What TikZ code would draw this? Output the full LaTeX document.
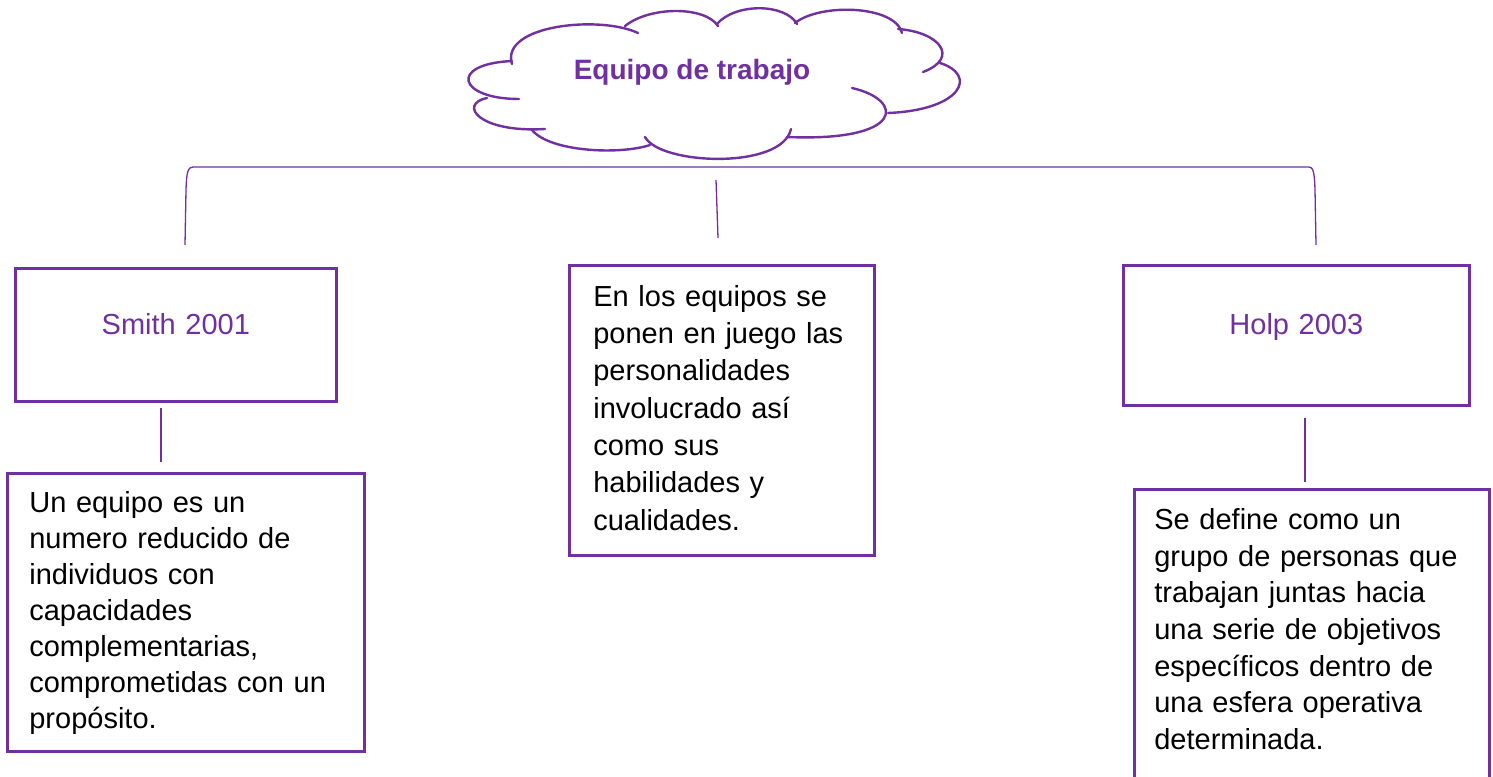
\documentclass[tikz,border=0pt]{standalone}
\usepackage{fontspec}
\setmainfont{Liberation Sans}
\definecolor{wpurple}{HTML}{7030A0}
\tikzset{
  txtbox/.style={draw=wpurple, line width=2.7pt, anchor=north west, inner ysep=0pt, align=left},
  headbox/.style={draw=wpurple, line width=2.7pt, anchor=north west, inner xsep=0pt, inner ysep=0pt, align=center, text=wpurple, font=\fontsize{29}{35}\selectfont},
  conn/.style={draw=wpurple, line width=1.3pt},
  lobe/.style={draw=wpurple, line width=2.4pt, line cap=round},
}
\begin{document}
\begin{tikzpicture}[x=1pt,y=-1pt]
\clip (0,0) rectangle (1493,776);
\fill[white] (0,0) rectangle (1493,776);

% cloud
\draw[lobe] (512,64) .. controls (500,25) and (600,15) .. (638,33);
\draw[lobe] (625,26) .. controls (650,6) and (705,6) .. (718,26);
\draw[lobe] (717,24) .. controls (735,3) and (785,3) .. (797,24);
\draw[lobe] (795,23) .. controls (820,3) and (895,5) .. (902,33);
\draw[lobe] (898,29) .. controls (940,32) and (960,58) .. (923,72);
\draw[lobe] (940,63) .. controls (978,75) and (962,110) .. (888,113);
\draw[lobe] (852,88) .. controls (905,100) and (905,142) .. (787,137);
\draw[lobe] (791,129) .. controls (782,170) and (660,165) .. (645,137);
\draw[lobe] (650,145) .. controls (620,155) and (550,152) .. (532,130);
\draw[lobe] (545,129) .. controls (478,133) and (458,104) .. (487,98);
\draw[lobe] (519,99) .. controls (458,99) and (448,64) .. (512,61);
\node[anchor=base, text=wpurple, font=\fontsize{28}{34}\selectfont\bfseries] (title) at (692,79) {Equipo de trabajo};

% bracket
\coordinate (brL) at (185,245);
\coordinate (brR) at (1316,245);
\draw[conn] (brL) -- (186,190) .. controls (186.5,172) and (188,167) .. (193,167)
  -- (1309,167) .. controls (1313,167) and (1314.5,172) .. (1315,190) -- (brR);
\coordinate (mT) at (716,180);
\coordinate (mB) at (718,238);
\draw[conn] (mT) -- (mB);

% boxes
\node[headbox, text width=321pt, text height=66pt, text depth=67pt] (smith) at (14,267) {Smith 2001};
\node[headbox, text width=346pt, text height=69pt, text depth=71pt] (holp) at (1122,264) {Holp 2003};

\coordinate (sT) at (161,408);
\coordinate (sB) at (161,462);
\draw[conn] (sT) -- (sB);
\coordinate (hT) at (1305,418);
\coordinate (hB) at (1305,482);
\draw[conn] (hT) -- (hB);

\node[txtbox, inner xsep=22pt, text width=313pt, text height=39pt, text depth=239pt,
  font=\fontsize{29}{36}\selectfont] (def1) at (6,472)
  {Un equipo es un\\numero reducido de\\individuos con\\capacidades\\complementarias,\\comprometidas con un\\propósito.};

\node[txtbox, inner xsep=24pt, text width=257pt, text height=41pt, text depth=249pt,
  font=\fontsize{29}{37.3}\selectfont] (def2) at (568,264)
  {En los equipos se\\ponen en juego las\\personalidades\\involucrado así\\como sus\\habilidades y\\cualidades.};

\node[txtbox, inner xsep=20pt, text width=315pt, text height=40pt, text depth=320pt,
  font=\fontsize{29}{36.7}\selectfont] (def3) at (1133,488)
  {Se define como un\\grupo de personas que\\trabajan juntas hacia\\una serie de objetivos\\específicos dentro de\\una esfera operativa\\determinada.};
\end{tikzpicture}
\end{document}
